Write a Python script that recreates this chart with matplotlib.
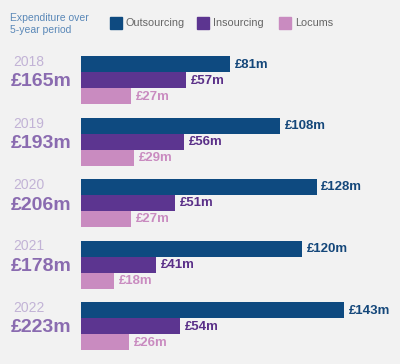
import numpy as np
import matplotlib
matplotlib.use("Agg")
import matplotlib.pyplot as plt
from matplotlib.patches import Rectangle

years = ["2018", "2019", "2020", "2021", "2022"]
totals = [165, 193, 206, 178, 223]
outsourcing = [81, 108, 128, 120, 143]
insourcing = [57, 56, 51, 41, 54]
locums = [27, 29, 27, 18, 26]
series_names = ["Outsourcing", "Insourcing", "Locums"]

bg = "#f2f2f2"
colors = ["#0e4a80", "#5c3590", "#c98bc0"]
label_colors = ["#14477a", "#5a2f88", "#c98bc0"]

plt.rcParams['font.family'] = ['Liberation Sans', 'DejaVu Sans']

W, H = 400, 364
fig = plt.figure(figsize=(W / 100, H / 100), dpi=100, facecolor=bg)

# axes in pixel-like coords for y, data units for x
x0 = 81
px_per_unit = 1.84
ax = fig.add_axes([x0 / W, 0, 1 - x0 / W, 1])
ax.set_facecolor(bg)
ax.set_xlim(0, (W - x0) / px_per_unit)
ax.set_ylim(H, 0)
ax.axis("off")

group_top = 56
group_step = 61.5
bar_h = 16

values = [outsourcing, insourcing, locums]
for i, yr in enumerate(years):
    top = group_top + i * group_step
    for k in range(3):
        yc = top + k * bar_h + bar_h / 2
        v = values[k][i]
        ax.barh(yc, v, height=bar_h, color=colors[k], left=0)
        ax.text(v + 2.6, yc + 0.5, f"£{v}m", color=label_colors[k],
                fontsize=9.5, fontweight="bold", va="center", ha="left")
    # year + total on the left
    fig.text(13 / W, 1 - (top + 6) / H, yr, color="#c2b3d6",
             fontsize=10, va="center", ha="left")
    fig.text(11 / W, 1 - (top + 26) / H, f"£{totals[i]}m", color="#8a6bb0",
             fontsize=14, fontweight="bold", va="center", ha="left")

# legend header
fig.text(10 / W, 1 - 24 / H, "Expenditure over\n5-year period", color="#5a88b8",
         fontsize=7.5, va="center", ha="left", linespacing=1.15)
leg_x = [110, 197, 279]
for k, name in enumerate(series_names):
    fig.patches.append(Rectangle((leg_x[k] / W, 1 - 29 / H), 12 / W, 12 / H,
                                 transform=fig.transFigure, color=colors[k]))
    fig.text((leg_x[k] + 16) / W, 1 - 23.5 / H, name, color="#666666",
             fontsize=7.8, va="center", ha="left")

fig.savefig("out.png", dpi=100, facecolor=bg)
